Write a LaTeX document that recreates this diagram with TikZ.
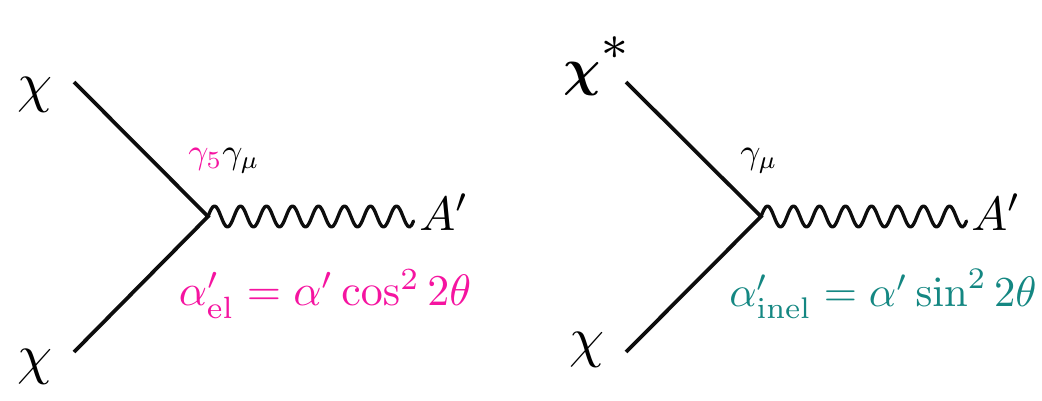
\documentclass[tikz,border=0pt]{standalone}
\usepackage{amsmath}
\definecolor{pinkc}{RGB}{245,20,160}
\definecolor{tealc}{RGB}{20,135,130}
\tikzset{
  px/.style={x=0.75pt,y=-0.75pt},
  fermion/.style={line width=2.8pt,black!95},
  boson/.style={line width=2.5pt,black!95,line cap=round,line join=round},
  lab/.style={inner sep=0pt,outer sep=0pt,anchor=center},
  wiggle/.pic={
    \draw[boson] (0,0)
      \foreach \i in {1,...,7}{ sin ++(6.5,-10.5) cos ++(6.5,10.5) sin ++(6.5,10.5) cos ++(6.5,-10.5) }
      sin ++(6.5,-10.5) cos ++(6.5,10.5) sin ++(6.5,10.5) cos ++(4,-6);
  },
}
\begin{document}
\begin{tikzpicture}[px]
\useasboundingbox (0,0) rectangle (1042,400);
\coordinate (v1) at (208,216.5);
\coordinate (a1) at (74,82);
\coordinate (b1) at (74,352);
\coordinate (v2) at (761,216.5);
\coordinate (a2) at (626,82);
\coordinate (b2) at (626,352);
\draw[fermion] (a1) -- (v1) -- (b1);
\draw[fermion] (a2) -- (v2) -- (b2);
\pic at (v1) {wiggle};
\pic at (v2) {wiggle};
\node[lab] (c1) at (35,95) {\scalebox{4.2}{$\chi$}};
\node[lab] (c2) at (35,367) {\scalebox{4.2}{$\chi$}};
\node[lab] (c3) at (587,350) {\scalebox{4.2}{$\chi$}};
\node[lab] (c4) at (598,66) {\scalebox{3.9}{$\boldsymbol{\chi}^{\raisebox{0.35ex}{\scalebox{1.35}{$\scriptstyle *$}}}$}};
\node[lab] (g1) at (224,161) {\scalebox{2.65}{$\textcolor{pinkc}{\gamma_5}\gamma_\mu$}};
\node[lab] (g2) at (759,161) {\scalebox{2.65}{$\gamma_\mu$}};
\node[lab] (A1) at (444,212) {\scalebox{3.6}{$A'$}};
\node[lab] (A2) at (996,212) {\scalebox{3.6}{$A'$}};
\node[lab,text=pinkc] (f1) at (325,294) {\scalebox{3.3}{$\alpha'_{\mathrm{el}}=\alpha'\cos^2 2\theta$}};
\node[lab,text=tealc] (f2) at (883,294) {\scalebox{3.2}{$\alpha'_{\mathrm{inel}}=\alpha'\sin^2 2\theta$}};
\end{tikzpicture}
\end{document}
